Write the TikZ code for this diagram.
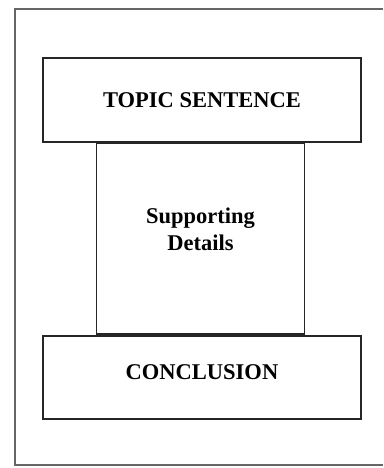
\documentclass[tikz,border=0pt]{standalone}
\usepackage{fontspec}
\setmainfont{Liberation Serif}
\begin{document}
\begin{tikzpicture}[x=1pt,y=-1pt,
  box/.style={draw=black!85,line width=1.6pt,fill=white,inner sep=0pt,
    font=\fontsize{22.5}{27}\selectfont\bfseries,align=center},
  frame/.style={draw=black!60,line width=1.8pt}]
\useasboundingbox[fill=white] (0,0) rectangle (383,468);
\draw[frame] (383,9) -- (15,9) -- (15,465) -- (383,465);
\node[box,minimum width=208pt,minimum height=191pt] (details) at (200.5,238.5)
  {Supporting\\Details\rule[-18pt]{0pt}{0pt}};
\node[box,minimum width=318pt,minimum height=84pt] (topic) at (202,100) {TOPIC SENTENCE};
\node[box,minimum width=318pt,minimum height=83pt] (concl) at (202,377.5) {CONCLUSION\rule[-10pt]{0pt}{0pt}};
\end{tikzpicture}
\end{document}
